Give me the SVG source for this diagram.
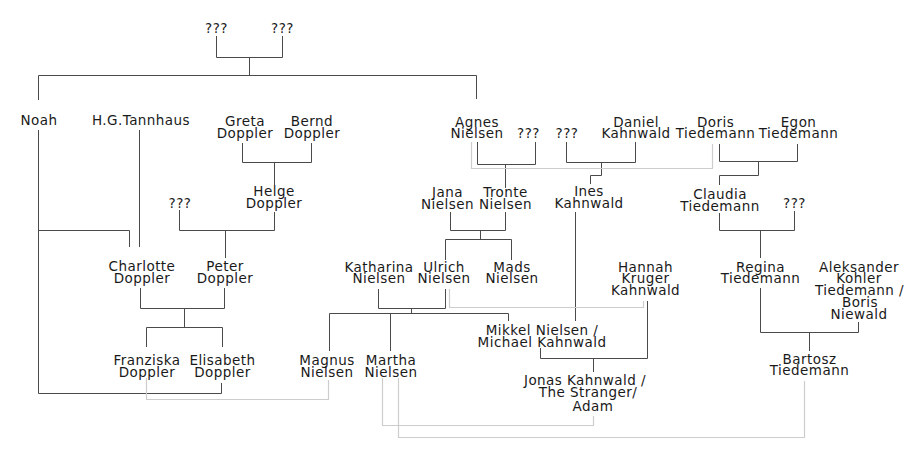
<svg xmlns="http://www.w3.org/2000/svg" width="915" height="464" viewBox="0 0 915 464">
<style>
text{font-family:"DejaVu Sans","Liberation Sans",sans-serif;font-size:13.5px;letter-spacing:0.45px;fill:#1a1a1a;text-anchor:middle}
.k{fill:none;stroke:#4a4a4a;stroke-width:1}
.g{fill:none;stroke:#cdcdcd;stroke-width:1.2}
</style>
<rect width="915" height="464" fill="#fff"/>
<g id="connectors">
<path class="k" d="M216.5,36V57.5H282.5V36M249.5,57.5V75.5"/>
<path class="k" d="M38.5,100V75.5H476.5V99"/>
<path class="k" d="M38.5,130V393.5H221.5V383M38.5,230.5H129.5V247"/>
<path class="k" d="M139.5,130V247"/>
<path class="k" d="M242.5,143V162.5H311.5V143M274.5,162.5V185"/>
<path class="k" d="M179.5,210V230.5H274.5V212M225.5,230.5V258"/>
<path class="k" d="M140.5,288V308.5H224.5V288M184.5,308.5V327.5M146.5,347V327.5H222.5V347"/>
<path class="k" d="M477.5,142V164.5H535.5V142M505.5,164.5V188"/>
<path class="k" d="M566.5,142V162.5H635.5V142M601.5,162.5V175.5H590.5V184"/>
<path class="k" d="M719.5,144V161.5H797.5V144M758.5,161.5V175.5H719.5V185"/>
<path class="k" d="M450.5,212V230.5H505.5V212M480.5,230.5V239.5M445.5,260V239.5H511.5V260"/>
<path class="k" d="M575.5,212V321"/>
<path class="k" d="M719.5,213V230.5H794.5V211M760.5,230.5V258"/>
<path class="k" d="M378.5,289V308.5H445.5V289M411.5,308.5V313.5M329.5,351V313.5H508.5V321M390.5,313.5V351"/>
<path class="k" d="M540.5,348V358.5H647.5V301M593.5,358.5V372"/>
<path class="k" d="M760.5,288V332.5H858.5V322M809.5,332.5V351"/>
<path class="g" d="M471.5,142V168.5H712.5V144"/>
<path class="g" d="M449.5,289V307.5H643.5V301"/>
<path class="g" d="M146.5,378V399.5H328.5V380"/>
<path class="g" d="M382.5,378V425.5H593.5V416"/>
<path class="g" d="M398.5,378V437.5H804.5V381"/>
</g>
<g id="unk1"><text x="216.5" y="33">???</text></g>
<g id="unk2"><text x="282.5" y="33">???</text></g>
<g id="noah"><text x="39" y="125">Noah</text></g>
<g id="tannhaus"><text x="141" y="125">H.G.Tannhaus</text></g>
<g id="greta"><text x="245" y="125.5">Greta<tspan x="245" dy="12">Doppler</tspan></text></g>
<g id="bernd"><text x="312" y="125.5">Bernd<tspan x="312" dy="12">Doppler</tspan></text></g>
<g id="helge"><text x="274" y="196">Helge<tspan x="274" dy="12">Doppler</tspan></text></g>
<g id="unk3"><text x="180" y="208">???</text></g>
<g id="charlotte"><text x="142" y="270.5">Charlotte<tspan x="142" dy="12">Doppler</tspan></text></g>
<g id="peter"><text x="225" y="270.5">Peter<tspan x="225" dy="12">Doppler</tspan></text></g>
<g id="franziska"><text x="147" y="364.5">Franziska<tspan x="147" dy="12">Doppler</tspan></text></g>
<g id="elisabeth"><text x="222.5" y="364.5">Elisabeth<tspan x="222.5" dy="12">Doppler</tspan></text></g>
<g id="agnes"><text x="477" y="126.5">Agnes<tspan x="477" dy="11.5">Nielsen</tspan></text></g>
<g id="unk4"><text x="528.5" y="138">???</text></g>
<g id="unk5"><text x="567" y="138">???</text></g>
<g id="daniel"><text x="636" y="126.5">Daniel<tspan x="636" dy="11.5">Kahnwald</tspan></text></g>
<g id="doris"><text x="715.5" y="126.5">Doris<tspan x="715.5" dy="11.5">Tiedemann</tspan></text></g>
<g id="egon"><text x="798.5" y="126.5">Egon<tspan x="798.5" dy="11.5">Tiedemann</tspan></text></g>
<g id="jana"><text x="447.5" y="196.5">Jana<tspan x="447.5" dy="12">Nielsen</tspan></text></g>
<g id="tronte"><text x="505.5" y="196.5">Tronte<tspan x="505.5" dy="12">Nielsen</tspan></text></g>
<g id="ines"><text x="589" y="195.5">Ines<tspan x="589" dy="12">Kahnwald</tspan></text></g>
<g id="claudia"><text x="720" y="199">Claudia<tspan x="720" dy="11.5">Tiedemann</tspan></text></g>
<g id="unk6"><text x="794.5" y="208">???</text></g>
<g id="katharina"><text x="379" y="271.5">Katharina<tspan x="379" dy="11.5">Nielsen</tspan></text></g>
<g id="ulrich"><text x="444" y="271.5">Ulrich<tspan x="444" dy="11.5">Nielsen</tspan></text></g>
<g id="mads"><text x="512" y="271.5">Mads<tspan x="512" dy="11.5">Nielsen</tspan></text></g>
<g id="hannah"><text x="645.5" y="271.5">Hannah<tspan x="645.5" dy="11.7">Kruger</tspan><tspan x="645.5" dy="11.7">Kahnwald</tspan></text></g>
<g id="regina"><text x="760.5" y="271.5">Regina<tspan x="760.5" dy="11.7">Tiedemann</tspan></text></g>
<g id="aleksander"><text x="859" y="271.5">Aleksander<tspan x="859" dy="11.7">Kohler</tspan><tspan x="859.5" dy="11.7">Tiedemann /</tspan><tspan x="860" dy="11.9">Boris</tspan><tspan x="859" dy="11.9">Niewald</tspan></text></g>
<g id="mikkel"><text x="542" y="334.5">Mikkel Nielsen /<tspan x="542" dy="12">Michael Kahnwald</tspan></text></g>
<g id="magnus"><text x="327" y="364.5">Magnus<tspan x="327" dy="12">Nielsen</tspan></text></g>
<g id="martha"><text x="391" y="364.5">Martha<tspan x="391" dy="12">Nielsen</tspan></text></g>
<g id="jonas"><text x="585" y="385">Jonas Kahnwald /<tspan x="588" dy="11.7">The Stranger/</tspan><tspan x="593" dy="14.3">Adam</tspan></text></g>
<g id="bartosz"><text x="809.5" y="363.5">Bartosz<tspan x="809.5" dy="11.7">Tiedemann</tspan></text></g>
</svg>
